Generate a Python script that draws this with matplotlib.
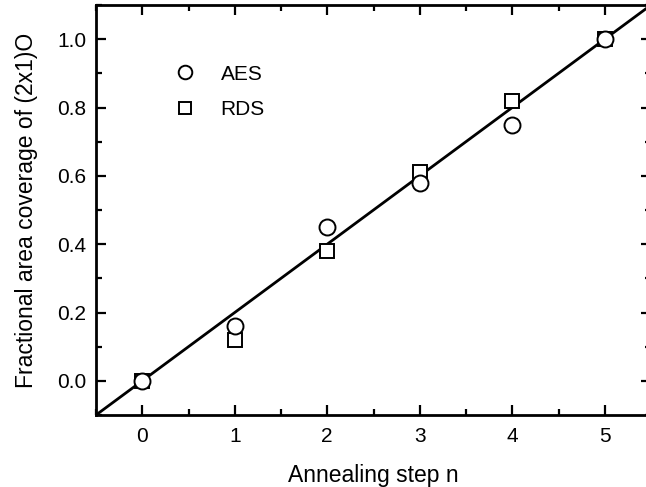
import numpy as np
import matplotlib.pyplot as plt
from matplotlib.ticker import MultipleLocator

plt.rcParams['font.family'] = ['Liberation Sans', 'DejaVu Sans']

steps = [0, 1, 2, 3, 4, 5]
aes = [0.0, 0.16, 0.45, 0.58, 0.75, 1.0]
rds = [0.0, 0.12, 0.38, 0.61, 0.82, 1.0]
fit_slope = 0.2
fit_x = [-0.5, 5.5]

fig = plt.figure(figsize=(6.46, 4.87), dpi=100)
ax = fig.add_axes([96 / 646, 72 / 487, 555 / 646, 410 / 487])

fx = np.array(fit_x)
ax.plot(fx, fit_slope * fx, color='black', lw=2, zorder=1)
ax.plot(steps, aes, 'o', ms=11.5, mfc='white', mec='black', mew=1.4, zorder=3, label='AES')
ax.plot(steps, rds, 's', ms=10, mfc='white', mec='black', mew=1.4, zorder=2, label='RDS')

ax.set_xlim(-0.5, 5.5)
ax.set_ylim(-0.1, 1.1)
ax.xaxis.set_major_locator(MultipleLocator(1))
ax.xaxis.set_minor_locator(MultipleLocator(0.5))
ax.yaxis.set_major_locator(MultipleLocator(0.2))
ax.yaxis.set_minor_locator(MultipleLocator(0.1))
ax.yaxis.set_major_formatter(plt.FormatStrFormatter('%.1f'))
ax.tick_params(which='both', direction='in', top=True, right=True, width=1.6, labelsize=15)
ax.tick_params(axis='x', pad=8.5)
ax.tick_params(axis='y', pad=7)
ax.tick_params(which='major', length=7)
ax.tick_params(which='minor', length=4)
for s in ax.spines.values():
    s.set_linewidth(2)

ax.set_xlabel('Annealing step n', fontsize=16.5, labelpad=13)
ax.set_ylabel('Fractional area coverage of (2x1)O', fontsize=16.5, labelpad=14)

ax.legend(loc='upper left', bbox_to_anchor=(0.108, 0.875), frameon=False, fontsize=15,
          handlelength=2, handletextpad=0.7, labelspacing=0.8, borderaxespad=0,
          markerscale=0.85)

fig.savefig('out.png', dpi=100)
